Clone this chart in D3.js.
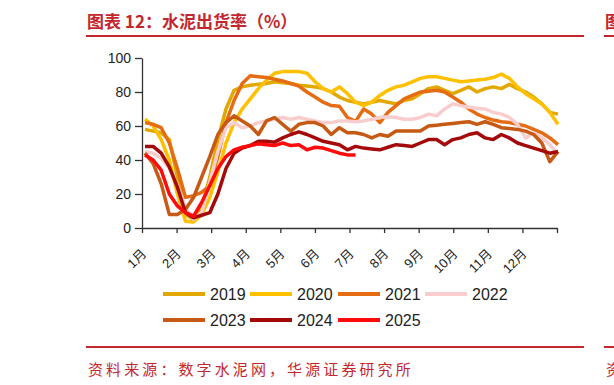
<!DOCTYPE html>
<html>
<head>
<meta charset="utf-8">
<script src="https://cdn.jsdelivr.net/npm/d3@7"></script>
<style>
  body { margin: 0; background: #fff; }
  svg { display: block; }
</style>
</head>
<body>
<div id="chart"></div>
<script>
// month labels and y ticks
var months = ["1月", "2月", "3月", "4月", "5月", "6月", "7月", "8月", "9月", "10月", "11月", "12月"];
var yTicks = [0, 20, 40, 60, 80, 100];
var years = ["2019", "2020", "2021", "2022", "2023", "2024", "2025"];
var colors = ["#E2A800", "#FFC000", "#E56C12", "#F9CDCD", "#C65A14", "#A50A0A", "#FF0A0A"];

// weekly shipment rate (%)
var s2019 = [58, 57, 56, 52, 30, 8, 5, 12, 30, 52, 70, 81, 83, 84, 84.5, 85, 86, 85.5, 85, 84, 83.5, 83, 82, 80, 77, 75,
  74, 73, 74, 75, 74, 73, 75, 76, 79, 82, 83, 81, 79, 81, 83, 80, 82, 83, 82, 84.5, 82, 80, 77, 73, 68, 67];
var s2020 = [64, 60, 52, 40, 20, 4, 3.5, 8, 18, 33, 50, 62, 70, 76, 82, 87, 91, 92, 92, 92, 91, 86, 82, 80, 83, 79,
  74, 72, 74, 78, 81, 83, 84, 86, 88, 89, 89, 88, 87, 86, 86.5, 87, 87.5, 88.5, 90.5, 88, 83, 79, 76, 73, 68, 61];
var s2021 = [62, 61, 59, 50, 35, 18, 19, 21, 25, 42, 62, 75, 85, 89.5, 89, 88.5, 87.5, 86.5, 85, 83.5, 80, 77, 74, 72, 71.6, 65,
  62.7, 70, 67, 62, 68, 72, 76, 78, 80, 80.5, 81, 80, 77, 74, 70, 67, 65, 63.5, 62.5, 62, 61, 60, 58, 56, 53, 49];
var s2022 = [45, 44, 41, 35, 25, 12, 5, 9, 27, 45, 59, 62, 59, 60, 62, 63, 64, 65, 64, 65, 64, 63, 62, 62, 63, 63,
  62.5, 63, 64, 65, 65.5, 65, 64, 64, 65, 67, 66, 70, 73, 72, 71, 70.5, 70, 68, 67, 65, 61, 53, 56, 53, 49, 43];
var s2023 = [44, 38, 26, 8, 8, 11, 18, 30, 42, 55, 62, 66, 63, 60, 55, 63, 65, 61, 57, 61, 62, 62, 60, 55, 59, 56,
  56, 55, 53, 55, 54, 57, 57, 57, 57, 60, 60.5, 61, 61.5, 62, 62.5, 61, 62.5, 61, 59, 58.5, 58, 57, 55, 50, 39, 45];
var s2024 = [48, 48, 44, 36, 24, 9, 6, 7.5, 9, 20, 35, 44, 47, 48.5, 51, 51, 50.5, 53, 55, 56.5, 55, 53, 51, 50, 49, 46,
  48, 47, 46.5, 46, 47.5, 49, 48.5, 48, 50, 52, 52, 49, 52, 53, 55, 56, 53, 52, 55, 53, 50, 48.5, 47, 45.5, 44, 45];
var s2025 = [43, 40, 34, 20, 13, 9, 7, 15, 25, 35, 42, 46, 47.5, 48.5, 49.5, 49, 48.5, 50, 48.5, 49, 46, 47.5, 47, 45.5,
  44, 43, 43];

var series = [s2019, s2020, s2021, s2022, s2023, s2024, s2025];

var width = 614, height = 385;
var plot = { left: 142, right: 557, top: 58, bottom: 228 };
var red = "#C3272E";

var svg = d3.select("#chart").append("svg")
    .attr("width", width)
    .attr("height", height)
    .style("background-color", "#fff");

// header and footer (the right edge shows the start of the next panel)
svg.append("text")
    .attr("x", 87).attr("y", 28)
    .attr("fill", red)
    .style("font-family", "'Noto Sans CJK SC', sans-serif")
    .style("font-size", "17px")
    .style("font-weight", "bold")
    .text("图表 12：水泥出货率（%）");
svg.append("line").attr("x1", 86).attr("x2", 584).attr("y1", 36).attr("y2", 36)
    .attr("stroke", red).attr("stroke-width", 2);
svg.append("line").attr("x1", 604).attr("x2", 614).attr("y1", 36).attr("y2", 36)
    .attr("stroke", red).attr("stroke-width", 2);
svg.append("text")
    .attr("x", 605).attr("y", 28)
    .attr("fill", red)
    .style("font-family", "'Noto Sans CJK SC', sans-serif")
    .style("font-size", "17px")
    .style("font-weight", "bold")
    .text("图");
svg.append("line").attr("x1", 86).attr("x2", 584).attr("y1", 347).attr("y2", 347)
    .attr("stroke", red).attr("stroke-width", 2);
svg.append("line").attr("x1", 604).attr("x2", 614).attr("y1", 347).attr("y2", 347)
    .attr("stroke", red).attr("stroke-width", 2);
svg.append("text")
    .attr("x", 88).attr("y", 375)
    .attr("fill", red)
    .style("font-family", "'Noto Sans CJK SC', sans-serif")
    .style("font-size", "15px")
    .style("letter-spacing", "3.1px")
    .text("资料来源：数字水泥网，华源证券研究所");
svg.append("text")
    .attr("x", 606).attr("y", 375)
    .attr("fill", red)
    .style("font-family", "'Noto Sans CJK SC', sans-serif")
    .style("font-size", "15px")
    .text("资");

// scales
var scaleY = d3.scaleLinear().domain([0, 100]).range([plot.bottom, plot.top]);
var scaleMonth = d3.scaleLinear().domain([0, 12]).range([plot.left, plot.right]);
var scaleWeek = d3.scaleLinear().domain([0, 51]).range([145, 558]);

var axisY = d3.axisLeft(scaleY)
    .tickValues(yTicks)
    .tickSize(7)
    .tickSizeOuter(0)
    .tickPadding(4);

var axisX = d3.axisBottom(scaleMonth)
    .tickValues(d3.range(13))
    .tickSize(5)
    .tickSizeOuter(0)
    .tickFormat(function (d) { return months[d] || ""; });

var gy = svg.append("g")
    .attr("class", "y axis")
    .attr("transform", "translate(" + plot.left + ",0)")
    .call(axisY);
gy.selectAll("text")
    .style("font-family", "'Liberation Sans', Arial, sans-serif")
    .style("font-size", "14px")
    .attr("fill", "#222");

var gx = svg.append("g")
    .attr("class", "x axis")
    .attr("transform", "translate(0," + plot.bottom + ")")
    .call(axisX);
gx.selectAll("text")
    .style("font-family", "'Liberation Sans', 'Noto Sans CJK SC', sans-serif")
    .style("font-size", "13px")
    .attr("fill", "#222")
    .attr("text-anchor", "end")
    .attr("dy", 0)
    .attr("transform", "translate(-1,21) rotate(-45)");

svg.selectAll(".axis path, .axis line")
    .attr("stroke", "#333")
    .attr("stroke-width", 1.3);

// lines
var line = d3.line()
    .x(function (d, i) { return scaleWeek(i); })
    .y(function (d) { return scaleY(d); });

svg.selectAll(".series")
    .data(series)
    .enter()
    .append("path")
    .attr("class", "series")
    .attr("fill", "none")
    .attr("stroke", function (d, i) { return colors[i]; })
    .attr("stroke-width", 3.5)
    .attr("stroke-linejoin", "round")
    .attr("d", line);

// legend
var legendX = [163, 250, 338, 425];
var legend = svg.selectAll(".legend")
    .data(years)
    .enter()
    .append("g")
    .attr("class", "legend")
    .attr("transform", function (d, i) {
        return "translate(" + legendX[i % 4] + "," + (i < 4 ? 294 : 320) + ")";
    });
legend.append("line")
    .attr("x1", 0).attr("x2", 42)
    .attr("stroke", function (d, i) { return colors[i]; })
    .attr("stroke-width", 4);
legend.append("text")
    .attr("x", 47)
    .attr("y", 6)
    .style("font-family", "'Liberation Sans', Arial, sans-serif")
    .style("font-size", "16px")
    .attr("fill", "#222")
    .text(function (d) { return d; });
</script>
</body>
</html>
